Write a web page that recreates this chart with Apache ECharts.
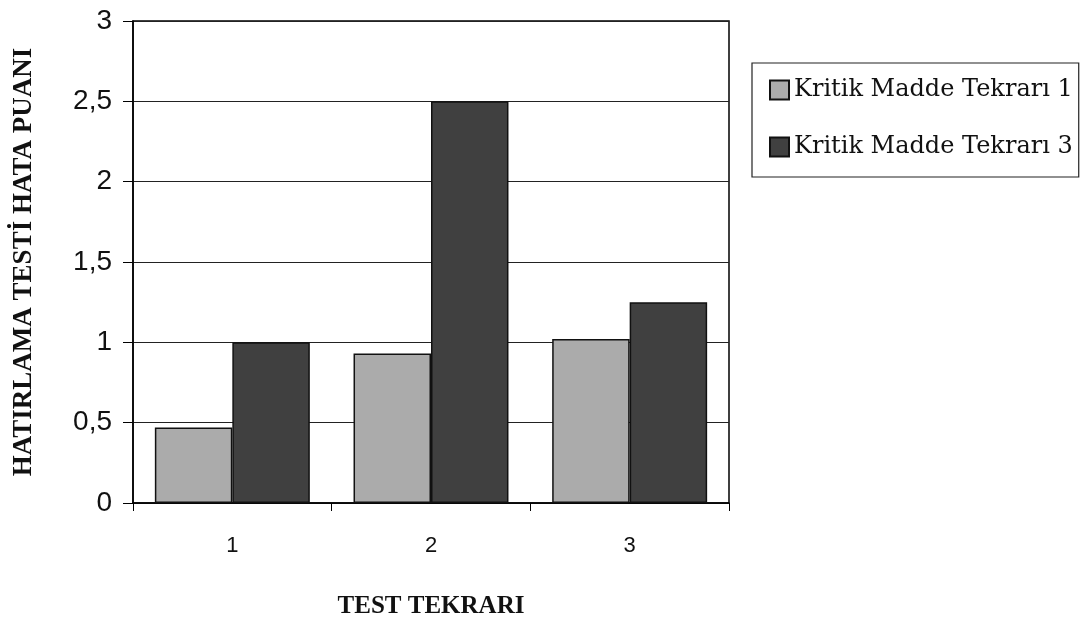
<!DOCTYPE html>
<html>
<head>
<meta charset="utf-8">
<script src="https://cdn.jsdelivr.net/npm/echarts@6/dist/echarts.min.js"></script>
<style>
  html, body { margin: 0; padding: 0; background: #fff; }
  #chart { width: 1082px; height: 624px; }
</style>
</head>
<body>
<div id="chart"></div>
<script>
const categories = ["1", "2", "3"];
const tekrar1 = [0.47, 0.93, 1.02];
const tekrar3 = [1.0, 2.5, 1.25];
const seriesNames = ["Kritik Madde Tekrarı 1", "Kritik Madde Tekrarı 3"];

const chart = echarts.init(document.getElementById("chart"));
const option = {
  backgroundColor: "#fff",
  animation: false,
  grid: {
    left: 133,
    right: 353,
    top: 21,
    bottom: 119,
    show: true,
    borderColor: "#000",
    borderWidth: 1.5,
  },
  legend: {
    orient: "vertical",
    left: 752,
    top: 63,
    icon: "rect",
    itemWidth: 19,
    itemHeight: 19,
    itemGap: 33,
    padding: [15, 6, 18, 17],
    borderColor: "#222",
    borderWidth: 1.2,
    textStyle: {
      fontFamily: "DejaVu Serif",
      fontSize: 24,
      color: "#111",
    },
    data: seriesNames,
  },
  xAxis: {
    type: "category",
    data: categories,
    name: "TEST TEKRARI",
    nameLocation: "middle",
    nameGap: 91,
    nameTextStyle: {
      fontFamily: "Liberation Serif",
      fontWeight: "bold",
      fontSize: 25,
      color: "#111",
    },
    axisLine: { lineStyle: { color: "#000", width: 1.5 } },
    axisTick: { show: true, length: 8, lineStyle: { color: "#000" } },
    axisLabel: {
      margin: 32,
      fontFamily: "Liberation Sans",
      fontSize: 22,
      color: "#111",
    },
  },
  yAxis: {
    type: "value",
    min: 0,
    max: 3,
    interval: 0.5,
    name: "HATIRLAMA TESTİ HATA PUANI",
    nameLocation: "middle",
    nameGap: 95,
    nameTextStyle: {
      fontFamily: "Liberation Serif",
      fontWeight: "bold",
      fontSize: 27,
      color: "#111",
    },
    axisLine: { show: true, lineStyle: { color: "#000", width: 1.5 } },
    axisTick: { show: true, length: 10, lineStyle: { color: "#000" } },
    axisLabel: {
      margin: 21,
      fontFamily: "Liberation Sans",
      fontSize: 28,
      color: "#111",
      formatter: (v) => String(v).replace(".", ","),
    },
    splitLine: { show: true, lineStyle: { color: "#222", width: 1.2 } },
  },
  series: [
    {
      name: seriesNames[0],
      type: "bar",
      data: tekrar1,
      barGap: "0%",
      barCategoryGap: "22%",
      itemStyle: {
        color: "#ababab",
        borderColor: "#111",
        borderWidth: 1.5,
      },
    },
    {
      name: seriesNames[1],
      type: "bar",
      data: tekrar3,
      itemStyle: {
        color: "#404040",
        borderColor: "#111",
        borderWidth: 1.5,
      },
    },
  ],
};
chart.setOption(option);
</script>
</body>
</html>
